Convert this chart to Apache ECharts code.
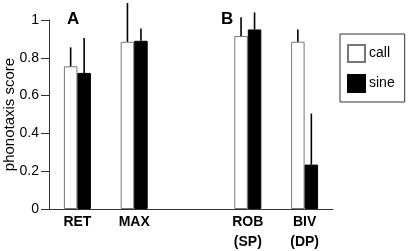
<!DOCTYPE html>
<html>
<head>
<meta charset="utf-8">
<script src="https://cdn.jsdelivr.net/npm/echarts@6/dist/echarts.min.js"></script>
<style>
  html, body { margin: 0; padding: 0; background: #fff; }
  #chart { width: 408px; height: 251px; }
</style>
</head>
<body>
<div id="chart"></div>
<script>
  // categories (third slot is the gap between panel A and B)
  var categories = ['RET', 'MAX', '', 'ROB\n(SP)', 'BIV\n(DP)'];
  var callMean = [0.755, 0.885, null, 0.915, 0.885];
  var callUpper = [0.855, 1.09, null, 1.015, 0.95];
  var sineMean = [0.72, 0.89, null, 0.95, 0.235];
  var sineUpper = [0.905, 0.955, null, 1.04, 0.505];
  var yTicks = [0, 0.2, 0.4, 0.6, 0.8, 1];

  var barW = 13.5;
  var font = 'Liberation Sans, Arial, sans-serif';

  //误差线数据 [类别, 均值, 上限]
  function errData(mean, upper) {
    var out = [];
    for (var i = 0; i < categories.length; i++) {
      if (mean[i] != null) out.push([i, mean[i], upper[i]]);
    }
    return out;
  }

  function errSeries(name, data, offset) {
    return {
      name: name + ' err',
      type: 'custom',
      clip: false,
      z: 5,
      silent: true,
      data: data,
      renderItem: function (params, api) {
        var p0 = api.coord([api.value(0), api.value(1)]);
        var p1 = api.coord([api.value(0), api.value(2)]);
        return {
          type: 'line',
          shape: { x1: p0[0] + offset, y1: p0[1], x2: p0[0] + offset, y2: p1[1] },
          style: { stroke: '#000', lineWidth: 1.6 }
        };
      }
    };
  }

  var chart = echarts.init(document.getElementById('chart'));
  chart.setOption({
    animation: false,
    textStyle: { fontFamily: font },
    title: [
      { text: 'A', left: 62, top: 6, textStyle: { fontSize: 17, fontWeight: 'bold', color: '#000', fontFamily: font } },
      { text: 'B', left: 216, top: 6, textStyle: { fontSize: 17, fontWeight: 'bold', color: '#000', fontFamily: font } }
    ],
    grid: { left: 49, right: 75, top: 20, bottom: 42, outerBoundsMode: 'none', containLabel: false },
    legend: {
      data: ['call', 'sine'],
      orient: 'vertical',
      left: 340,
      top: 34,
      itemWidth: 17,
      itemHeight: 17,
      itemGap: 11,
      padding: [10, 10, 9, 7],
      borderColor: '#333',
      borderWidth: 1,
      icon: 'rect',
      textStyle: { fontSize: 14, color: '#000', fontFamily: font, padding: [0, 0, 0, -1] }
    },
    xAxis: {
      type: 'category',
      data: categories,
      axisLine: { lineStyle: { color: '#333', width: 1 } },
      axisTick: { length: 6, lineStyle: { color: '#333' } },
      axisLabel: {
        color: '#000', fontSize: 14, fontWeight: 'bold', fontFamily: font,
        lineHeight: 20, margin: 3, interval: 0
      }
    },
    yAxis: {
      type: 'value',
      min: 0,
      max: 1,
      interval: 0.2,
      name: 'phonotaxis score',
      nameLocation: 'middle',
      nameGap: 32,
      nameMoveOverlap: false,
      nameTextStyle: { fontSize: 15, color: '#000', fontFamily: font },
      splitLine: { show: false },
      axisLine: { show: true, lineStyle: { color: '#333', width: 1 } },
      axisTick: { show: true, inside: false, length: 8, lineStyle: { color: '#333', width: 1 } },
      axisLabel: {
        color: '#000', fontSize: 14, fontFamily: font, margin: 10,
        formatter: function (v) { return yTicks.indexOf(v) >= 0 ? String(v) : ''; }
      }
    },
    series: [
      {
        name: 'call',
        type: 'bar',
        data: callMean,
        barWidth: barW,
        barGap: '0%',
        itemStyle: { color: '#fff', borderColor: '#777', borderWidth: 1 }
      },
      {
        name: 'sine',
        type: 'bar',
        data: sineMean,
        barWidth: barW,
        barGap: '0%',
        itemStyle: { color: '#000', borderColor: '#000', borderWidth: 1 }
      },
      errSeries('call', errData(callMean, callUpper), -barW / 2),
      errSeries('sine', errData(sineMean, sineUpper), barW / 2)
    ]
  });
</script>
</body>
</html>
